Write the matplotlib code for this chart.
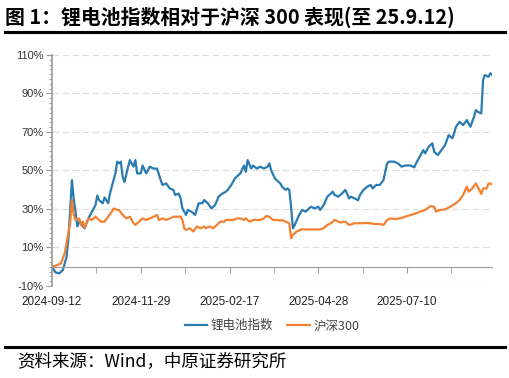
import numpy as np
import matplotlib
matplotlib.use("Agg")
import matplotlib.pyplot as plt
from matplotlib.ticker import MultipleLocator, FuncFormatter

plt.rcParams['font.family'] = ['Noto Sans CJK SC', 'DejaVu Sans']

# trading-day index (0 = 2024-09-12) and cumulative return in %
li_day = [0, 2, 4, 6, 8, 9, 10, 11, 12, 13, 14, 15, 17, 18, 20, 22, 24, 25, 26, 28,
          29, 31, 32, 33, 35, 36, 37, 38, 39, 40, 42, 43, 45, 46, 47, 49, 50, 52, 54, 56,
          58, 60, 61, 63, 65, 67, 68, 70, 71, 72, 74, 75, 77, 79, 81, 83, 84, 86, 88, 90,
          92, 94, 96, 97, 99, 101, 103, 104, 106, 107, 108, 110, 111, 113, 115, 117, 119, 120, 121, 123,
          124, 126, 127, 129, 130, 131, 132, 133, 134, 136, 138, 140, 142, 143, 145, 147, 148, 150, 152, 154,
          155, 156, 158, 160, 162, 164, 165, 167, 169, 170, 172, 174, 176, 177, 179, 181, 183, 185, 186, 188,
          189, 191, 193, 195, 197, 198, 200, 201, 203, 205, 206, 208, 210, 211, 213, 215, 217, 219, 221, 222,
          223, 225, 227, 229, 231, 233, 234, 235, 237, 238, 239, 241, 242, 243]
li_val = [0, -3.0, -3.4, -1.7, 5, 14, 29, 45, 35, 28.5, 21, 23.5, 21, 20, 25, 28.5, 32, 37, 34.6, 33,
          36, 33, 38, 41.6, 48.5, 54.6, 53.7, 54.6, 46.8, 44, 52, 55.4, 52, 55.4, 48.5, 48.5, 52.6, 48.5, 52, 51,
          51, 45, 42.5, 43.3, 40.7, 39.9, 37.3, 38, 35.5, 30.3, 26.9, 29.5, 28.6, 26.9, 33, 33, 34.7, 33, 30.3, 32,
          36.4, 38, 39, 39.9, 42.5, 46, 47.7, 48.5, 52.6, 49.3, 55.4, 51, 52.6, 51, 52, 51, 52, 53.7, 50.1, 46,
          45, 43.3, 41.6, 39.9, 40.7, 39.9, 31, 20, 21.7, 26, 29.5, 28.6, 30.3, 31.2, 30.3, 31.2, 29.5, 32, 36.4, 38,
          39, 37.3, 36.4, 38, 39.9, 35.5, 36.4, 35.5, 34.6, 37.3, 39.9, 41.6, 42.5, 40.7, 42.5, 42.5, 45, 53.7, 54.6, 54.6,
          54.6, 53.7, 52, 52.6, 52.6, 52.6, 51.6, 53.7, 57.1, 60.6, 58.9, 62.4, 64.1, 59.7, 58, 60.6, 63.2, 68.4, 66.7, 69.3,
          72.7, 75.3, 73.6, 76.2, 72.7, 77.9, 81.4, 80.5, 79.7, 97, 99.6, 98.7, 100.5, 99.6]

hs_day = [0, 3, 5, 7, 8, 10, 11, 12, 13, 15, 16, 17, 18, 20, 22, 24, 25, 27, 29, 31,
          33, 34, 36, 37, 39, 41, 43, 45, 46, 48, 50, 52, 54, 56, 58, 59, 61, 63, 65, 67,
          69, 71, 72, 73, 74, 76, 78, 80, 82, 84, 85, 87, 89, 91, 93, 95, 96, 98, 100, 102,
          104, 106, 107, 109, 111, 113, 115, 117, 118, 120, 122, 124, 126, 127, 129, 131, 132, 133, 135, 137,
          138, 140, 142, 144, 146, 148, 150, 152, 154, 156, 159, 162, 164, 167, 170, 173, 175, 178, 181, 183,
          185, 187, 189, 192, 195, 198, 200, 203, 206, 209, 211, 212, 214, 217, 220, 223, 225, 227, 229, 230,
          232, 234, 235, 237, 238, 240, 241, 243]
hs_val = [0, 0.9, 1.8, 7, 12, 22.6, 34.7, 26.9, 24.3, 25.1, 21.7, 23.4, 20, 25.1, 24.3, 26, 25.1, 23.4, 23.4, 26,
          28.6, 30.3, 29.5, 29.5, 26.9, 25.1, 26, 22.6, 21.7, 23.4, 25.1, 24.3, 25.1, 26, 26.9, 24.3, 25.1, 24.3, 25.1, 26,
          26, 26, 24.3, 20, 19.1, 20, 18.3, 20.9, 20, 20.9, 20, 20.9, 20, 21.7, 23.4, 23.4, 24.3, 24.3, 24.3, 25.1,
          25.1, 24.3, 25.1, 23.4, 24.3, 24.3, 24.3, 25.1, 26.3, 26, 24.3, 24.3, 24, 24.3, 23.4, 22.6, 14.8, 16.5, 18.3, 19.1,
          19.4, 19.4, 19.4, 19.4, 19.4, 19.4, 20, 21.7, 22.6, 24.3, 23, 23.4, 21.7, 22.6, 22.6, 22.7, 22.7, 22.2, 22.2, 21.7,
          24.3, 25.1, 24.8, 25.1, 26, 26.9, 27.4, 28.6, 29.5, 31.5, 31.2, 28.6, 29.5, 29.8, 31.2, 33, 34.7, 37.3, 41.6, 39,
          40.7, 43.3, 41.6, 37.8, 40.7, 40.7, 43.3, 42.9]

tick_pos = [0, 49, 98, 147, 196]
tick_labels = ['2024-09-12', '2024-11-29', '2025-02-17', '2025-04-28', '2025-07-10']

blue = '#2a7bb1'
orange = '#f28232'
grey = '#9a9a9a'

fig = plt.figure(figsize=(5.1, 3.78), dpi=100)
ax = fig.add_axes([0.102, 0.2434, 0.863, 0.6111])

ax.plot(li_day, li_val, color=blue, lw=1.6, label='锂电池指数')
ax.plot(hs_day, hs_val, color=orange, lw=1.6, label='沪深300')

ax.set_xlim(0, 243)
ax.set_ylim(-10, 110)

# y axis
ax.set_yticks(np.arange(-10, 111, 20))
ax.yaxis.set_major_formatter(FuncFormatter(lambda v, p: '%d%%' % v))
ax.yaxis.set_minor_locator(MultipleLocator(2.5))
ax.tick_params(axis='y', which='major', length=4, color=grey, labelsize=8, labelcolor='#333333', pad=2)
ax.tick_params(axis='y', which='minor', length=2, color=grey)
ax.grid(axis='y', color='#dddddd', ls=(0, (6, 3)), lw=0.8)

# x axis line at 0, labels pushed to bottom
ax.spines['bottom'].set_position(('data', 0))
ax.spines['bottom'].set_color(grey)
ax.spines['left'].set_color(grey)
ax.spines['left'].set_linewidth(1.2)
ax.spines['top'].set_visible(False)
ax.spines['right'].set_visible(False)
ax.set_xticks(tick_pos)
ax.set_xticklabels(tick_labels)
ax.xaxis.set_minor_locator(MultipleLocator(24.5))
ax.tick_params(axis='x', which='both', length=4, color=grey, labelsize=8.5,
               labelcolor='#222222', pad=17, direction='out')
for lab in ax.get_xticklabels():
    lab.set_family(['Liberation Sans', 'DejaVu Sans'])
for lab in ax.get_yticklabels():
    lab.set_family(['Liberation Sans', 'DejaVu Sans'])

leg = ax.legend(loc='upper center', bbox_to_anchor=(0.5, -0.095), ncol=2, frameon=False,
                fontsize=9, handlelength=1.8, columnspacing=1.1, handletextpad=0.3)
for t in leg.get_texts():
    t.set_color('#444444')

# title and source
fig.text(0.010, 0.955, '图 1：锂电池指数相对于沪深 300 表现(至 25.9.12)', fontsize=14.3,
         fontweight='bold', va='center', ha='left')
fig.add_artist(plt.Line2D([0.01, 0.99], [0.915, 0.915], color='black', lw=2.2))
fig.add_artist(plt.Line2D([0.01, 0.99], [0.082, 0.082], color='black', lw=2.2))
fig.text(0.033, 0.042, '资料来源：Wind，中原证券研究所', fontsize=12.6, va='center', ha='left')

fig.savefig('out.png', dpi=100)
